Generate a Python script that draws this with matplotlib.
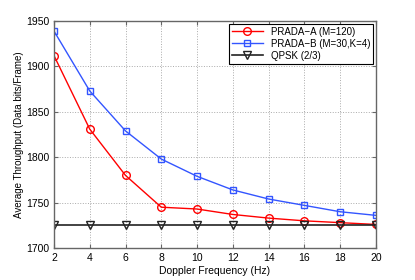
import matplotlib
matplotlib.use("Agg")
import matplotlib.pyplot as plt

freq = [2, 4, 6, 8, 10, 12, 14, 16, 18, 20]
prada_a = [1912, 1831, 1780, 1745, 1743, 1737, 1733, 1730, 1728, 1726]
prada_b = [1939, 1873, 1829, 1798, 1779, 1764, 1754, 1747, 1740, 1736]
qpsk = [1725] * 10

plt.rcParams['font.family'] = ['Liberation Sans', 'DejaVu Sans']

fig = plt.figure(figsize=(4.15, 2.8), dpi=100)
ax = fig.add_axes([0.130, 0.114, 0.776, 0.811])

ax.plot(freq, prada_a, color="red", marker="o", mfc="none", ms=5.5, lw=1,
        label="PRADA\u2212A (M=120)")
ax.plot(freq, prada_b, color="#3355ff", marker="s", mfc="none", ms=5, lw=1,
        label="PRADA\u2212B (M=30,K=4)")
ax.plot(freq, qpsk, color="#222222", marker="v", mfc="none", ms=5.5, lw=1.2,
        label="QPSK (2/3)")

ax.set_xlim(2, 20)
ax.set_ylim(1700, 1950)
ax.set_xticks(range(2, 21, 2))
ax.set_yticks(range(1700, 1951, 50))
ax.tick_params(direction="in", labelsize=7.5, length=3, top=True, right=True,
               color="#666666")
ax.grid(True, linestyle=":", color="#aaaaaa", lw=0.7)
for s in ax.spines.values():
    s.set_color("#666666")
    s.set_linewidth(1)

ax.set_xlabel("Doppler Frequency (Hz)", fontsize=7.5, labelpad=2)
ax.set_ylabel("Average Throughput (Data bits/Frame)", fontsize=7, labelpad=1)

leg = ax.legend(loc="upper right", fontsize=7, fancybox=False, framealpha=1,
                edgecolor="black", borderaxespad=0.3, handlelength=3.2,
                labelspacing=0.2, borderpad=0.3)
leg.get_frame().set_linewidth(0.8)

fig.savefig("out.png", dpi=100)
